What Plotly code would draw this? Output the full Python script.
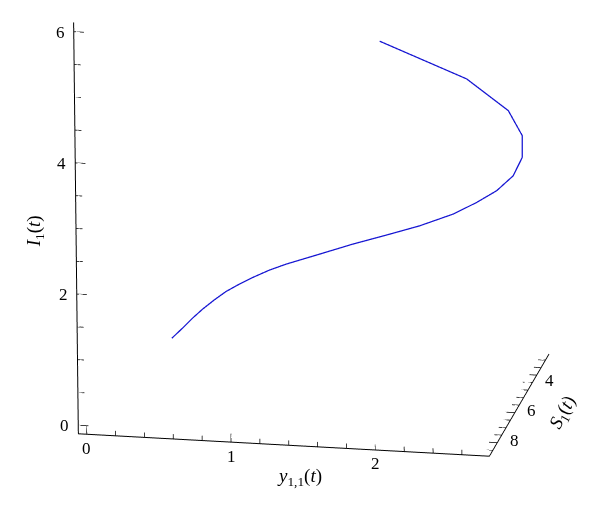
import plotly.graph_objects as go

# Trajectory values (ordered from lower-left end to upper end)
y11 = [0.251, 0.307, 0.365, 0.426, 0.499, 0.574, 0.663, 0.753, 0.868, 0.984, 1.100,
       1.218, 1.336, 1.453, 1.692, 1.932, 2.174, 2.350, 2.502, 2.634, 2.713, 2.734,
       2.707, 2.532, 2.034]
S1 = [3.3, 3.0, 2.8, 2.65, 2.5, 2.4, 2.33, 2.29, 2.26, 2.25, 2.25,
      2.27, 2.3, 2.33, 2.42, 2.55, 2.7, 2.9, 3.1, 3.35, 3.6, 3.9,
      5.0, 6.8, 8.44]
I1 = [0.082, 0.173, 0.287, 0.397, 0.513, 0.626, 0.734, 0.836, 0.956, 1.059, 1.149,
      1.244, 1.342, 1.439, 1.626, 1.826, 2.068, 2.312, 2.555, 2.857, 3.203, 3.605,
      4.236, 5.111, 6.001]

x_ticks = [round(0.2 * k, 1) for k in range(14)]
x_labels = {0.0: "0", 1.0: "1", 2.0: "2"}
i_ticks = [0.5 * k for k in range(13)]
i_labels = {0.0: "0", 2.0: "2", 4.0: "4", 6.0: "6"}
s_ticks = [0.5 * k for k in range(5, 18)]
s_labels = {4.0: "4", 6.0: "6", 8.0: "8"}

x_range = [-0.058, 2.79]
s_range = [2.1, 8.9]
i_range = [-0.13, 6.14]

FONT = "Liberation Serif, DejaVu Serif, serif"
TXT = dict(family=FONT, size=17, color="black")
TTL = dict(family=FONT, size=19, color="black")

fig = go.Figure()
fig.add_trace(go.Scatter3d(
    x=y11, y=[-s for s in S1], z=I1,
    mode="lines",
    line=dict(color="rgb(20,20,210)", width=2.5),
    hoverinfo="skip",
))

# tick marks (Mathematica style: pointing into the box)
tx, ty, tz = [], [], []
x0, s0, i0 = x_range[0], -s_range[1], i_range[0]
for v in x_ticks:                     # y11 ticks, pointing up (+I)
    L = 0.13 if v in x_labels else 0.075
    tx += [v, v, None]; ty += [s0, s0, None]; tz += [i0, i0 + L, None]
for v in i_ticks:                     # I ticks, pointing right (+y11)
    L = 0.07 if v in i_labels else 0.045
    tx += [x0, x0 + L, None]; ty += [s0, s0, None]; tz += [v, v, None]
for v in s_ticks:                     # S ticks, pointing left (-y11)
    L = 0.065 if v in s_labels else 0.05
    tx += [x_range[1], x_range[1] - L, None]; ty += [-v, -v, None]; tz += [i0, i0, None]
fig.add_trace(go.Scatter3d(
    x=tx, y=ty, z=tz, mode="lines",
    line=dict(color="black", width=1.5),
    hoverinfo="skip", connectgaps=False,
))

def axis(rng, neg=False):
    return dict(
        range=[-rng[1], -rng[0]] if neg else rng,
        showticklabels=False, ticks="",
        showgrid=False, zeroline=False, showbackground=False, showspikes=False,
        showline=True, linecolor="black", linewidth=2,
        title=dict(text=""),
    )

annotations = []
for v, t in x_labels.items():
    annotations.append(dict(x=v, y=s0, z=i0, text=t, showarrow=False,
                            yshift=-14, font=TXT))
for v, t in i_labels.items():
    annotations.append(dict(x=0.0, y=s0, z=v, text=t, showarrow=False,
                            xshift=-22, font=TXT))
for v, t in s_labels.items():
    annotations.append(dict(x=x_range[1], y=-v, z=i0, text=t, showarrow=False,
                            xshift=17, yshift=2, font=TXT))
annotations += [
    dict(x=1.475, y=s0, z=i0, text="<i>y</i><sub>1,1</sub>(<i>t</i>)",
         showarrow=False, yshift=-31, font=TTL),
    dict(x=0.0, y=s0, z=2.97, text="<i>I</i><sub>1</sub>(<i>t</i>)",
         showarrow=False, xshift=-49, textangle=-90, font=TTL),
    dict(x=x_range[1], y=-6.0, z=i0, text="<i>S</i><sub>1</sub>(<i>t</i>)",
         showarrow=False, xshift=48, textangle=-62, font=TTL),
]

k = 1.69
Zc = (0.184, -0.925, 0.332)
d = 2.0
c = (0.00358, -0.10121, -0.28389)
fig.update_layout(
    width=600, height=516,
    margin=dict(l=0, r=0, t=0, b=0),
    paper_bgcolor="white",
    showlegend=False,
    scene=dict(
        domain=dict(x=[0, 1], y=[0, 1]),
        xaxis=axis(x_range),
        yaxis=axis(s_range, neg=True),
        zaxis=axis(i_range),
        aspectmode="manual",
        aspectratio=dict(x=0.9605 * k, y=0.7143 * k, z=1.0 * k),
        camera=dict(
            projection=dict(type="orthographic"),
            up=dict(x=-0.0536, y=0.328, z=0.9433),
            center=dict(x=c[0], y=c[1], z=c[2]),
            eye=dict(x=c[0] + d * Zc[0], y=c[1] + d * Zc[1], z=c[2] + d * Zc[2]),
        ),
        annotations=annotations,
    ),
)

fig.write_html("out.html")
